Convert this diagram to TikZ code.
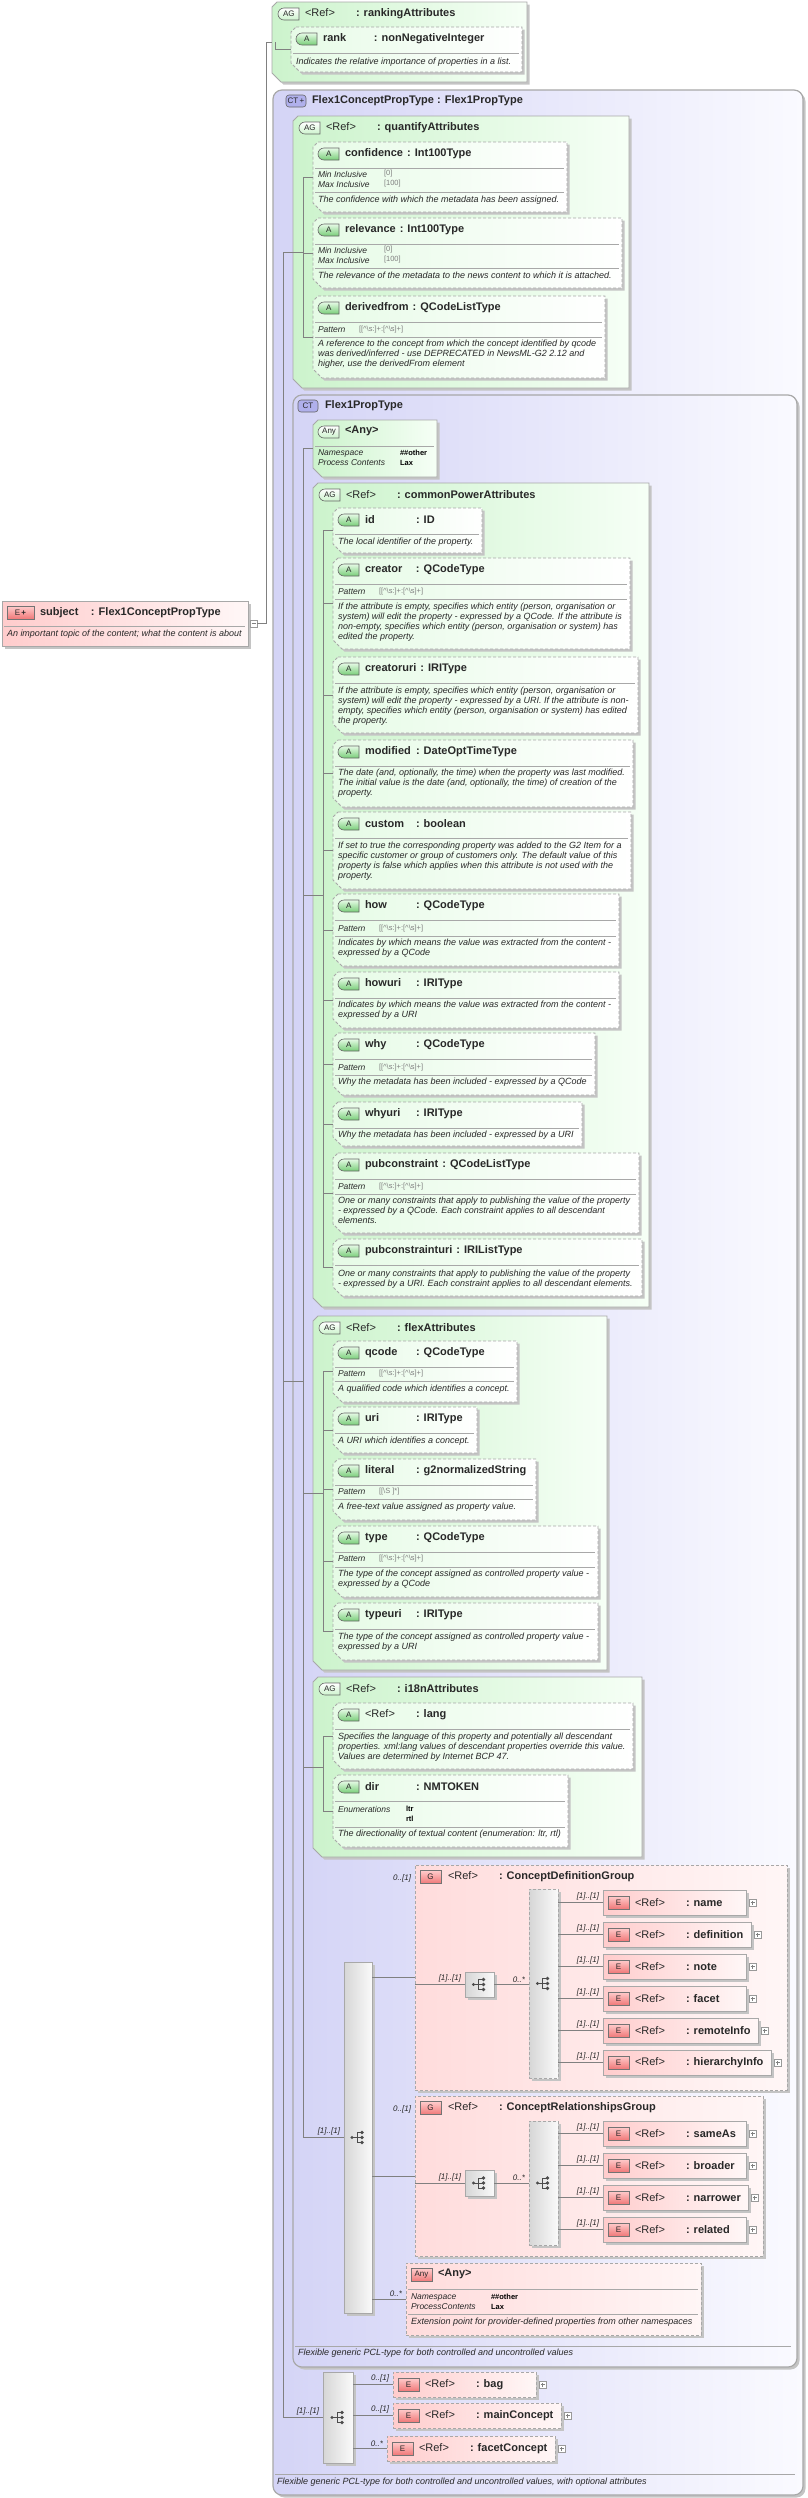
\documentclass[tikz,border=0pt]{standalone}
\usepackage{fontspec}
\setmainfont{Liberation Sans}
\usepackage{tikz}
\usetikzlibrary{calc, positioning, shapes.misc, shadows}
\usepackage{xcolor}
\definecolor{colCTa}{RGB}{212, 212, 246}
\definecolor{colCTb}{RGB}{250, 250, 255}
\definecolor{colAGa}{RGB}{204, 243, 204}
\definecolor{colAGb}{RGB}{246, 255, 246}
\definecolor{colATa}{RGB}{230, 251, 230}
\definecolor{colATb}{RGB}{255, 255, 255}
\definecolor{colELa}{RGB}{255, 204, 204}
\definecolor{colELb}{RGB}{255, 247, 247}
\definecolor{colGRa}{RGB}{255, 220, 220}
\definecolor{colGRb}{RGB}{255, 246, 246}
\definecolor{colSQa}{RGB}{214, 214, 214}
\definecolor{colSQb}{RGB}{250, 250, 250}
\definecolor{colLine}{RGB}{168, 168, 168}
\definecolor{colConn}{RGB}{128, 128, 128}
\definecolor{colText}{RGB}{40, 40, 40}
\definecolor{colShadow}{RGB}{196, 196, 196}
\definecolor{colIconA}{RGB}{120, 205, 120}
\definecolor{colIconE}{RGB}{240, 120, 120}
\definecolor{colIconCT}{RGB}{176, 176, 236}

% name column: at least 47pt wide, then the type
\newcommand{\namefld}[1]{\setbox0=\hbox{#1}%
  \ifdim\wd0<47pt\makebox[47pt][l]{#1}\else\box0\fi}
\newcommand{\patA}{[[\textasciicircum\textbackslash s:]+:[\textasciicircum\textbackslash s]+]}

% box with cut corners on the left (attribute groups, attributes)
\newcommand{\chbox}[6]{%
  \node[minimum width=#5pt, minimum height=#6pt, anchor=north west] (#2) at (#3,#4) {};
  \path[#1] ($(#2.north west)+(5,0)$) -- (#2.north east) -- (#2.south east)
    -- ($(#2.south west)+(9,0)$) -- ($(#2.south west)+(0,-9)$)
    -- ($(#2.north west)+(0,5)$) -- cycle;
}
% attribute: id, x, y, w, h, name, type
\newcommand{\attr}[7]{%
  \chbox{attr_style}{#1}{#2}{#3}{#4}{#5}
  \node[a_icon] (#1-i) at ($(#1.north west)+(5,12)$) {A};
  \node[name_style] (#1-n) at ($(#1.north west)+(32,12)$) {\namefld{#6}\hspace{4pt}: #7};
  \draw[rule_style] ($(#1.north west)+(2,26)$) -- ($(#1.north east)+(-3,26)$);
}
% attribute group: id, x, y, w, h, name
\newcommand{\agroup}[6]{%
  \chbox{ag_style}{#1}{#2}{#3}{#4}{#5}
  \node[ag_icon] (#1-i) at ($(#1.north west)+(6,12)$) {AG};
  \node[name_style] (#1-n) at ($(#1.north west)+(33,12)$) {\namefld{\mdseries<Ref>}\hspace{4pt}: #6};
}
\newcommand{\facet}[5]{%
  \node[facet_style] (#1-f#2) at ($(#1.north west)+(5,#2)$) {#3};
  \node[fval_style] (#1-v#2) at ($(#1.north west)+(#4,#2)$) {#5};
}
\newcommand{\rulel}[2]{\draw[rule_style] ($(#1.north west)+(2,#2)$) -- ($(#1.north east)+(-3,#2)$);}
\newcommand{\desc}[3]{\node[desc_style] (#1-d) at ($(#1.north west)+(5,#2-4)$) {#3};}
% element: id, x, y, w, name, extra style
\newcommand{\elem}[6]{%
  \node[elem_style, #6, minimum width=#4pt] (#1) at (#2,#3) {};
  \node[e_icon] (#1-i) at ($(#1.west)+(5,0)$) {E};
  \node[name_style] (#1-n) at ($(#1.west)+(32,0)$) {\namefld{\mdseries<Ref>}\hspace{4pt}: #5};
  \node[plus_box] (#1-p) at ($(#1.east)+(3,0)$) {};
}
% model group: id, x, y, w, h, name
\newcommand{\grp}[6]{%
  \node[group_style, minimum width=#4pt, minimum height=#5pt] (#1) at (#2,#3) {};
  \node[e_icon] (#1-i) at ($(#1.north west)+(5,12)$) {G};
  \node[name_style] (#1-n) at ($(#1.north west)+(33,12)$) {\namefld{\mdseries<Ref>}\hspace{4pt}: #6};
  \node[card_style, anchor=east] (#1-c) at ($(#1.north west)+(-4,13)$) {0..[1]};
}

\begin{document}
\begin{tikzpicture}[
    x=1pt, y=-1pt,
    every node/.style={inner sep=0pt, outer sep=0pt, text=colText},
    conn/.style={draw=colConn, line width=0.7pt},
    rule_style/.style={draw=colLine, line width=0.6pt},
    my_shadow/.style={drop shadow={shadow xshift=2.5pt, shadow yshift=-2.5pt,
      fill=colShadow, opacity=1}},
    opt_style/.style={dash pattern=on 3pt off 2pt},
    ct_style/.style={draw=colLine, line width=1.2pt, rounded corners=9pt,
      left color=colCTa, right color=colCTb, anchor=north west, my_shadow},
    ag_style/.style={draw=colLine, line width=0.8pt,
      left color=colAGa, right color=colAGb, my_shadow},
    attr_style/.style={draw=colLine, line width=0.8pt, opt_style,
      left color=colATa, right color=colATb, my_shadow},
    elem_style/.style={draw=colLine, line width=0.8pt, left color=colELa,
      right color=colELb, minimum height=25pt, anchor=north west, my_shadow},
    group_style/.style={draw=colLine, line width=0.8pt, opt_style,
      left color=colGRa, right color=colGRb, anchor=north west, my_shadow},
    seq_style/.style={draw=colLine, line width=0.8pt, left color=colSQa,
      right color=colSQb, anchor=north west, my_shadow},
    choice_style/.style={seq_style, opt_style},
    a_icon/.style={rounded rectangle, rounded rectangle right arc=none,
      draw=black!60, line width=0.6pt, top color=colATa, bottom color=colIconA,
      minimum width=21pt, minimum height=12pt, anchor=west,
      font=\fontsize{8}{8}\selectfont},
    ag_icon/.style={a_icon, top color=white, bottom color=colAGa},
    e_icon/.style={draw=black!55, line width=0.6pt, top color=colELa,
      bottom color=colIconE, minimum width=21pt, minimum height=13pt,
      anchor=west, font=\fontsize{8}{8}\selectfont},
    ct_icon/.style={draw=black!60, line width=0.6pt, rounded corners=3pt,
      fill=colIconCT, minimum width=20pt, minimum height=12pt, anchor=west,
      font=\fontsize{8}{8}\selectfont},
    name_style/.style={anchor=west, font=\fontsize{11}{13}\selectfont\bfseries},
    desc_style/.style={anchor=north west, align=left,
      font=\fontsize{9}{10}\selectfont\itshape},
    facet_style/.style={anchor=west, font=\fontsize{8.5}{10}\selectfont\itshape},
    fval_style/.style={anchor=west, font=\fontsize{7.5}{9}\selectfont, text=black!50},
    card_style/.style={anchor=south east, font=\fontsize{8}{9}\selectfont\itshape},
    plus_box/.style={draw=black!40, fill=white, minimum size=7pt, anchor=west,
      path picture={\draw[black!50, line width=0.5pt]
        ([xshift=1.5pt]path picture bounding box.west) --
        ([xshift=-1.5pt]path picture bounding box.east)
        ([yshift=1.5pt]path picture bounding box.south) --
        ([yshift=-1.5pt]path picture bounding box.north);}},
    minus_box/.style={draw=black!40, fill=white, minimum size=7pt, anchor=west,
      path picture={\draw[black!50, line width=0.5pt]
        ([xshift=1.5pt]path picture bounding box.west) --
        ([xshift=-1.5pt]path picture bounding box.east);}},
    seq_icon/.pic={
      \fill[black!70] (-6,0) circle (1.6pt);
      \draw[black!70, line width=0.7pt] (-6,0) -- (-1,0)
        (3,-5) -- (-1,-5) -- (-1,5) -- (3,5) (-1,0) -- (3,0);
      \foreach \yy in {-5,0,5} \fill[black!70] (4,\yy) circle (1.8pt);}
]
    \useasboundingbox (0,0) rectangle (808,2498);

    % --- Element subject ---
    \node[elem_style, minimum width=246pt, minimum height=45pt] (subj) at (2,601) {};
    \node[e_icon, minimum width=27pt] (subj-i) at ($(subj.north west)+(5,11.5)$) {E\,\textbf{+}};
    \node[name_style] (subj-n) at ($(subj.north west)+(38,11.5)$)
        {\namefld{subject}\hspace{4pt}: Flex1ConceptPropType};
    \rulel{subj}{25}
    \desc{subj}{33}{An important topic of the content; what the content is about}
    \node[minus_box] (smin) at ($(subj.east)+(2,0)$) {};

    % --- rankingAttributes ---
    \agroup{rag}{272}{2}{255}{80}{rankingAttributes}
    \attr{rank}{291}{27}{231}{45}{rank}{nonNegativeInteger}
    \desc{rank}{35}{Indicates the relative importance of properties in a list.}

    % --- Flex1ConceptPropType ---
    \node[ct_style, minimum width=530pt, minimum height=2405pt] (ct) at (273,90) {};
    \node[ct_icon] (ct-i) at ($(ct.north west)+(13,11)$) {CT\,+};
    \node[name_style] (ct-n) at ($(ct.north west)+(39,11)$) {Flex1ConceptPropType : Flex1PropType};

    % quantifyAttributes
    \agroup{qa}{293}{116}{336}{272}{quantifyAttributes}
    \attr{conf}{313}{142}{254}{70}{confidence}{Int100Type}
    \facet{conf}{32}{Min Inclusive}{71}{[0]}
    \facet{conf}{42}{Max Inclusive}{71}{[100]}
    \rulel{conf}{50}
    \desc{conf}{58}{The confidence with which the metadata has been assigned.}
    \attr{rel}{313}{218}{309}{70}{relevance}{Int100Type}
    \facet{rel}{32}{Min Inclusive}{71}{[0]}
    \facet{rel}{42}{Max Inclusive}{71}{[100]}
    \rulel{rel}{50}
    \desc{rel}{58}{The relevance of the metadata to the news content to which it is attached.}
    \attr{der}{313}{296}{292}{82}{derivedfrom}{QCodeListType}
    \facet{der}{34}{Pattern}{46}{\patA}
    \rulel{der}{41}
    \desc{der}{48}{A reference to the concept from which the concept identified by qcode\\
      was derived/inferred - use DEPRECATED in NewsML-G2 2.12 and\\
      higher, use the derivedFrom element}

    % --- Flex1PropType ---
    \node[ct_style, minimum width=504pt, minimum height=1972pt] (pt) at (293,395) {};
    \node[ct_icon] (pt-i) at ($(pt.north west)+(5,11)$) {CT};
    \node[name_style] (pt-n) at ($(pt.north west)+(32,11)$) {Flex1PropType};

    % any attribute
    \chbox{ag_style}{anyg}{313}{420}{124}{57}
    \node[ag_icon] (anyg-i) at ($(anyg.north west)+(5,12)$) {Any};
    \node[name_style] (anyg-n) at ($(anyg.north west)+(32,11)$) {<Any>};
    \rulel{anyg}{26}
    \facet{anyg}{33}{Namespace}{87}{\color{black}\bfseries\#\#other}
    \facet{anyg}{43}{Process Contents}{87}{\color{black}\bfseries Lax}

    % commonPowerAttributes
    \agroup{cpa}{313}{483}{336}{824}{commonPowerAttributes}
    \attr{id}{333}{508}{149}{45}{id}{ID}
    \desc{id}{34}{The local identifier of the property.}
    \attr{cre}{333}{558}{297}{91}{creator}{QCodeType}
    \facet{cre}{34}{Pattern}{46}{\patA}
    \rulel{cre}{41}
    \desc{cre}{49}{If the attribute is empty, specifies which entity (person, organisation or\\
      system) will edit the property - expressed by a QCode. If the attribute is\\
      non-empty, specifies which entity (person, organisation or system) has\\
      edited the property.}
    \attr{creu}{333}{657}{305}{76}{creatoruri}{IRIType}
    \desc{creu}{34}{If the attribute is empty, specifies which entity (person, organisation or\\
      system) will edit the property - expressed by a URI. If the attribute is non-\\
      empty, specifies which entity (person, organisation or system) has edited\\
      the property.}
    \attr{mod}{333}{740}{300}{67}{modified}{DateOptTimeType}
    \desc{mod}{33}{The date (and, optionally, the time) when the property was last modified.\\
      The initial value is the date (and, optionally, the time) of creation of the\\
      property.}
    \attr{cus}{333}{812}{298}{77}{custom}{boolean}
    \desc{cus}{34}{If set to true the corresponding property was added to the G2 Item for a\\
      specific customer or group of customers only. The default value of this\\
      property is false which applies when this attribute is not used with the\\
      property.}
    \attr{how}{333}{894}{286}{72}{how}{QCodeType}
    \facet{how}{35}{Pattern}{46}{\patA}
    \rulel{how}{42}
    \desc{how}{49}{Indicates by which means the value was extracted from the content -\\
      expressed by a QCode}
    \attr{howu}{333}{972}{286}{56}{howuri}{IRIType}
    \desc{howu}{33}{Indicates by which means the value was extracted from the content -\\
      expressed by a URI}
    \attr{why}{333}{1033}{262}{62}{why}{QCodeType}
    \facet{why}{35}{Pattern}{46}{\patA}
    \rulel{why}{42}
    \desc{why}{49}{Why the metadata has been included - expressed by a QCode}
    \attr{whyu}{333}{1102}{249}{44}{whyuri}{IRIType}
    \desc{whyu}{33}{Why the metadata has been included - expressed by a URI}
    \attr{pc}{333}{1153}{306}{80}{pubconstraint}{QCodeListType}
    \facet{pc}{34}{Pattern}{46}{\patA}
    \rulel{pc}{41}
    \desc{pc}{48}{One or many constraints that apply to publishing the value of the property\\
      - expressed by a QCode. Each constraint applies to all descendant\\
      elements.}
    \attr{pcu}{333}{1239}{309}{57}{pubconstrainturi}{IRIListType}
    \desc{pcu}{35}{One or many constraints that apply to publishing the value of the property\\
      - expressed by a URI. Each constraint applies to all descendant elements.}

    % flexAttributes
    \agroup{fla}{313}{1316}{294}{354}{flexAttributes}
    \attr{qc}{333}{1341}{184}{61}{qcode}{QCodeType}
    \facet{qc}{33}{Pattern}{46}{\patA}
    \rulel{qc}{40}
    \desc{qc}{48}{A qualified code which identifies a concept.}
    \attr{uri}{333}{1407}{144}{46}{uri}{IRIType}
    \desc{uri}{34}{A URI which identifies a concept.}
    \attr{lit}{333}{1459}{203}{61}{literal}{g2normalizedString}
    \facet{lit}{33}{Pattern}{46}{[[\textbackslash S ]*]}
    \rulel{lit}{40}
    \desc{lit}{48}{A free-text value assigned as property value.}
    \attr{typ}{333}{1526}{265}{71}{type}{QCodeType}
    \facet{typ}{33}{Pattern}{46}{\patA}
    \rulel{typ}{41}
    \desc{typ}{48}{The type of the concept assigned as controlled property value -\\
      expressed by a QCode}
    \attr{typu}{333}{1603}{265}{57}{typeuri}{IRIType}
    \desc{typu}{34}{The type of the concept assigned as controlled property value -\\
      expressed by a URI}

    % i18nAttributes
    \agroup{i18}{313}{1677}{329}{180}{i18nAttributes}
    \attr{lang}{333}{1703}{300}{66}{\mdseries<Ref>}{lang}
    \desc{lang}{34}{Specifies the language of this property and potentially all descendant\\
      properties. xml:lang values of descendant properties override this value.\\
      Values are determined by Internet BCP 47.}
    \attr{dir}{333}{1775}{235}{72}{dir}{NMTOKEN}
    \facet{dir}{34}{Enumerations}{73}{\color{black}\bfseries ltr}
    \node[fval_style] (dir-v44) at ($(dir.north west)+(73,44)$) {\color{black}\bfseries rtl};
    \rulel{dir}{52}
    \desc{dir}{59}{The directionality of textual content (enumeration: ltr, rtl)}

    % --- Content model of Flex1PropType ---
    \node[seq_style, minimum width=28pt, minimum height=351pt] (tseq) at (344,1962) {};
    \pic at (tseq.center) {seq_icon};

    % ConceptDefinitionGroup
    \grp{cdg}{415}{1865}{372}{225}{ConceptDefinitionGroup}
    \node[seq_style, minimum width=29pt, minimum height=25pt] (cdseq) at (465,1972) {};
    \pic at (cdseq.center) {seq_icon};
    \node[choice_style, minimum width=29pt, minimum height=189pt] (cdch) at (529,1889) {};
    \pic at (cdch.center) {seq_icon};
    \foreach \nm/\bw [count=\k from 0] in {name/143, definition/148, note/143,
        facet/143, remoteInfo/155, hierarchyInfo/168}{
      \elem{cd\k}{603}{1890+32*\k}{\bw}{\nm}{}
      \draw[conn] (cdch.east |- cd\k.west) -- (cd\k.west);
      \node[card_style] (cd\k-c) at ($(cd\k.west)+(-4,-2)$) {[1]..[1]};
    }

    % ConceptRelationshipsGroup
    \grp{crg}{415}{2096}{348}{160}{ConceptRelationshipsGroup}
    \node[seq_style, minimum width=29pt, minimum height=26pt] (crseq) at (465,2170) {};
    \pic at (crseq.center) {seq_icon};
    \node[choice_style, minimum width=29pt, minimum height=124pt] (crch) at (529,2121) {};
    \pic at (crch.center) {seq_icon};
    \foreach \nm/\bw [count=\k from 0] in {sameAs/143, broader/143, narrower/145, related/143}{
      \elem{cr\k}{603}{2121+32*\k}{\bw}{\nm}{}
      \draw[conn] (crch.east |- cr\k.west) -- (cr\k.west);
      \node[card_style] (cr\k-c) at ($(cr\k.west)+(-4,-2)$) {[1]..[1]};
    }

    % any element
    \node[group_style, minimum width=295pt, minimum height=72pt] (anyp) at (406,2263) {};
    \node[e_icon] (anyp-i) at ($(anyp.north west)+(5,12)$) {Any};
    \node[name_style] (anyp-n) at ($(anyp.north west)+(32,11)$) {<Any>};
    \rulel{anyp}{26}
    \facet{anyp}{34}{Namespace}{85}{\color{black}\bfseries\#\#other}
    \facet{anyp}{44}{ProcessContents}{85}{\color{black}\bfseries Lax}
    \rulel{anyp}{51}
    \desc{anyp}{59}{Extension point for provider-defined properties from other namespaces}

    % description of Flex1PropType
    \draw[rule_style] ($(pt.south west)+(2,-21)$) -- ($(pt.south east)+(-6,-21)$);
    \node[desc_style, anchor=west] (pt-d) at ($(pt.south west)+(5,-14)$)
        {Flexible generic PCL-type for both controlled and uncontrolled values};

    % --- Sequence of Flex1ConceptPropType ---
    \node[seq_style, minimum width=30pt, minimum height=91pt] (bseq) at (323,2372) {};
    \pic at (bseq.center) {seq_icon};
    \elem{bag}{393}{2372}{143}{bag}{opt_style}
    \elem{mainc}{393}{2403}{168}{mainConcept}{opt_style}
    \elem{facc}{387}{2436}{168}{facetConcept}{opt_style}

    \draw[rule_style] ($(ct.south west)+(2,-21)$) -- ($(ct.south east)+(-8,-21)$);
    \node[desc_style, anchor=west] (ct-d) at ($(ct.south west)+(4,-13)$)
        {Flexible generic PCL-type for both controlled and uncontrolled values, with optional attributes};

    % --- Connectors ---
    \coordinate (sp_subj) at (266,0);
    \coordinate (sp_ct) at (283,0);
    \coordinate (sp_in) at (303,0);
    \coordinate (sp_ag) at (323,0);

    \draw[conn] (smin.east) -- (smin.east -| sp_subj) -- (rag.west -| sp_subj) -- (rag.west);
    \draw[conn] ($(rag.west)+(3,0)$) |- (rank.west);

    \draw[conn] (qa.west -| sp_ct) -- (bseq.west -| sp_ct) -- (bseq.west);
    \draw[conn] (qa.west -| sp_ct) -- (qa.west -| sp_in);
    \draw[conn] (conf.west -| sp_in) -- (der.west -| sp_in);
    \foreach \at in {conf, rel, der} \draw[conn] (\at.west -| sp_in) -- (\at.west);

    \draw[conn] (pt.west -| sp_ct) -- (pt.west -| sp_in);
    \draw[conn] (anyg.west -| sp_in) -- (tseq.west -| sp_in) -- (tseq.west);
    \draw[conn] (anyg.west -| sp_in) -- (anyg.west);
    \foreach \g in {cpa, fla, i18} \draw[conn] (\g.west -| sp_in) -- (\g.west -| sp_ag);

    \draw[conn] (id.west -| sp_ag) -- (pcu.west -| sp_ag);
    \foreach \at in {id, cre, creu, mod, cus, how, howu, why, whyu, pc, pcu}
      \draw[conn] (\at.west -| sp_ag) -- (\at.west);
    \draw[conn] (qc.west -| sp_ag) -- (typu.west -| sp_ag);
    \foreach \at in {qc, uri, lit, typ, typu}
      \draw[conn] (\at.west -| sp_ag) -- (\at.west);
    \draw[conn] (lang.west -| sp_ag) -- (dir.west -| sp_ag);
    \foreach \at in {lang, dir} \draw[conn] (\at.west -| sp_ag) -- (\at.west);

    \draw[conn] (tseq.east |- cdg.west) -- (cdg.west);
    \draw[conn] (tseq.east |- crg.west) -- (crg.west);
    \draw[conn] (tseq.east |- anyp.west) -- (anyp.west);
    \foreach \s/\c/\g in {cdseq/cdch/cdg, crseq/crch/crg}{
      \draw[conn] (\g.west |- \s.west) -- (\s.west);
      \draw[conn] (\s.east) -- (\c.west |- \s.east);
      \node[card_style] (\s-c) at ($(\s.west)+(-4,-2)$) {[1]..[1]};
      \node[card_style] (\c-c) at ($(\c.west |- \s.west)+(-4,-2)$) {0..*};
    }
    \foreach \e in {bag, mainc, facc} \draw[conn] (bseq.east |- \e.west) -- (\e.west);

    % --- Cardinalities ---
    \node[card_style] (tseq-c) at ($(tseq.west)+(-4,-2)$) {[1]..[1]};
    \node[card_style] (anyp-c) at ($(anyp.west)+(-4,-2)$) {0..*};
    \node[card_style] (bseq-c) at ($(bseq.west)+(-4,-2)$) {[1]..[1]};
    \node[card_style] (bag-c) at ($(bag.west)+(-4,-2)$) {0..[1]};
    \node[card_style] (mainc-c) at ($(mainc.west)+(-4,-2)$) {0..[1]};
    \node[card_style] (facc-c) at ($(facc.west)+(-4,-2)$) {0..*};

\end{tikzpicture}
\end{document}
